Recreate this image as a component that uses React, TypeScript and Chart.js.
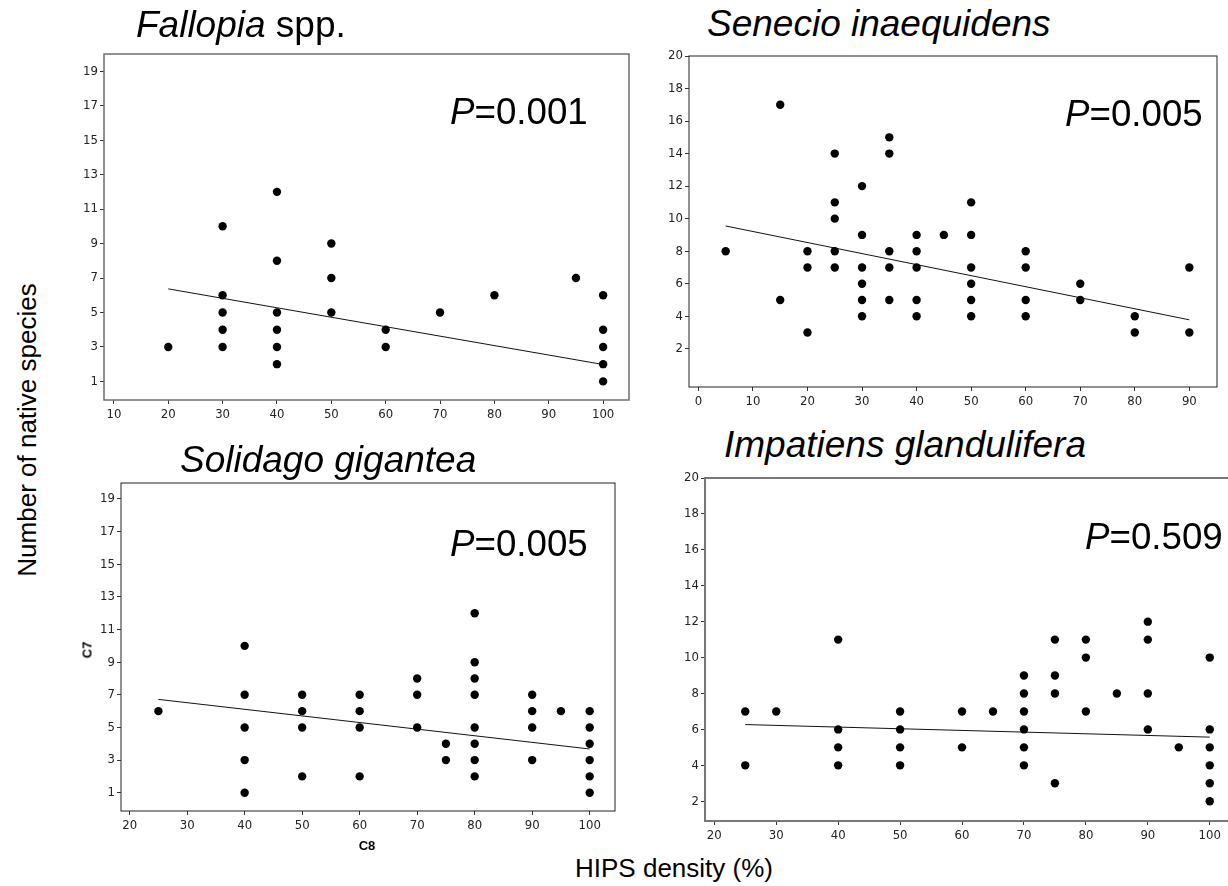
import React, { useEffect, useRef } from "react";
import { Chart, registerables } from "chart.js";

Chart.register(...registerables);

// Fallopia spp.
const fallopiaDensity = [20, 30, 30, 30, 30, 30, 40, 40, 40, 40, 40, 40, 50, 50, 50, 60, 60, 70, 80, 95, 100, 100, 100, 100, 100];
const fallopiaNative = [3, 10, 6, 5, 4, 3, 12, 8, 5, 4, 3, 2, 9, 7, 5, 4, 3, 5, 6, 7, 6, 4, 3, 2, 1];
const fallopiaFitX = [20, 100];
const fallopiaFitY = [6.37, 1.98];

// Senecio inaequidens
const senecioDensity = [5, 15, 15, 20, 20, 20, 25, 25, 25, 25, 25, 30, 30, 30, 30, 30, 30, 35, 35, 35, 35, 35, 40, 40, 40, 40, 40, 45, 50, 50, 50, 50, 50, 50, 60, 60, 60, 60, 70, 70, 80, 80, 90, 90];
const senecioNative = [8, 17, 5, 8, 7, 3, 14, 11, 10, 8, 7, 12, 9, 7, 6, 5, 4, 15, 14, 8, 7, 5, 9, 8, 7, 5, 4, 9, 11, 9, 7, 6, 5, 4, 8, 7, 5, 4, 6, 5, 4, 3, 7, 3];
const senecioFitX = [5, 90];
const senecioFitY = [9.55, 3.78];

// Solidago gigantea
const solidagoDensity = [25, 40, 40, 40, 40, 40, 50, 50, 50, 50, 60, 60, 60, 60, 70, 70, 70, 75, 75, 80, 80, 80, 80, 80, 80, 80, 80, 90, 90, 90, 90, 95, 100, 100, 100, 100, 100, 100];
const solidagoNative = [6, 10, 7, 5, 3, 1, 7, 6, 5, 2, 7, 6, 5, 2, 8, 7, 5, 4, 3, 12, 9, 8, 7, 5, 4, 3, 2, 7, 6, 5, 3, 6, 6, 5, 4, 3, 2, 1];
const solidagoFitX = [25, 100];
const solidagoFitY = [6.72, 3.68];

// Impatiens glandulifera
const impatiensDensity = [25, 25, 30, 40, 40, 40, 40, 50, 50, 50, 50, 60, 60, 65, 70, 70, 70, 70, 70, 70, 75, 75, 75, 75, 80, 80, 80, 85, 90, 90, 90, 90, 95, 100, 100, 100, 100, 100, 100];
const impatiensNative = [7, 4, 7, 11, 6, 5, 4, 7, 6, 5, 4, 7, 5, 7, 9, 8, 7, 6, 5, 4, 11, 9, 8, 3, 11, 10, 7, 8, 12, 11, 8, 6, 5, 10, 6, 5, 4, 3, 2];
const impatiensFitX = [25, 100];
const impatiensFitY = [6.27, 5.57];

// Tick labels
const oddTicks = [1, 3, 5, 7, 9, 11, 13, 15, 17, 19];
const evenTicks = [2, 4, 6, 8, 10, 12, 14, 16, 18, 20];
const ticks10to100 = [10, 20, 30, 40, 50, 60, 70, 80, 90, 100];
const ticks0to90 = [0, 10, 20, 30, 40, 50, 60, 70, 80, 90];
const ticks20to100 = [20, 30, 40, 50, 60, 70, 80, 90, 100];

const TICK_FONT = "'DejaVu Sans Condensed', 'Liberation Sans Narrow', sans-serif";
const TEXT_FONT = "'Liberation Sans', Arial, sans-serif";

type PanelProps = {
  frame: { l: number; t: number; r: number; b: number };
  xRange: [number, number];
  yRange: [number, number];
  xTicks: number[];
  yTicks: number[];
  xs: number[];
  ys: number[];
  fitX: number[];
  fitY: number[];
  frameColor: string;
  frameWidth: number;
};

const AXIS_W = 40;
const AXIS_H = 30;
const PAD_T = 10;
const PAD_R = 10;

function Panel(props: PanelProps) {
  const ref = useRef<HTMLCanvasElement | null>(null);
  const { frame } = props;
  const width = frame.r - frame.l + AXIS_W + PAD_R;
  const height = frame.b - frame.t + PAD_T + AXIS_H;

  useEffect(() => {
    if (!ref.current) return;
    // Box around the plotting area
    const framePlugin = {
      id: "panelFrame",
      afterDraw(chart: any) {
        const { ctx, chartArea } = chart;
        ctx.save();
        ctx.strokeStyle = props.frameColor;
        ctx.lineWidth = props.frameWidth;
        ctx.strokeRect(
          chartArea.left,
          chartArea.top,
          chartArea.right - chartArea.left,
          chartArea.bottom - chartArea.top
        );
        ctx.restore();
      },
    };
    const points = props.xs.map((x, i) => ({ x, y: props.ys[i] }));
    const fit = props.fitX.map((x, i) => ({ x, y: props.fitY[i] }));
    const tickFont = { family: TICK_FONT, size: 13 };
    const chart = new Chart(ref.current, {
      type: "scatter",
      data: {
        datasets: [
          {
            data: points,
            pointRadius: 4.2,
            pointHoverRadius: 4.2,
            backgroundColor: "#000",
            borderWidth: 0,
          },
          {
            type: "line",
            data: fit,
            borderColor: "#111",
            borderWidth: 1,
            pointRadius: 0,
            fill: false,
            showLine: true,
          } as any,
        ],
      },
      options: {
        responsive: false,
        animation: false,
        layout: { padding: { top: PAD_T, right: PAD_R, left: 0, bottom: 0 } },
        plugins: { legend: { display: false }, tooltip: { enabled: false } },
        scales: {
          x: {
            type: "linear",
            min: props.xRange[0],
            max: props.xRange[1],
            afterBuildTicks: (s: any) => {
              s.ticks = props.xTicks.map((v) => ({ value: v }));
            },
            afterFit: (s: any) => {
              s.height = AXIS_H;
            },
            ticks: { font: tickFont, color: "#222", padding: 3, maxRotation: 0, autoSkip: false },
            grid: { drawOnChartArea: false, drawTicks: true, tickLength: 4, color: "#333" },
            border: { display: false },
          },
          y: {
            type: "linear",
            min: props.yRange[0],
            max: props.yRange[1],
            afterBuildTicks: (s: any) => {
              s.ticks = props.yTicks.map((v) => ({ value: v }));
            },
            afterFit: (s: any) => {
              s.width = AXIS_W;
            },
            ticks: { font: tickFont, color: "#222", padding: 2, autoSkip: false },
            grid: { drawOnChartArea: false, drawTicks: true, tickLength: 4, color: "#333" },
            border: { display: false },
          },
        },
      },
      plugins: [framePlugin],
    });
    return () => chart.destroy();
  }, []);

  return (
    <canvas
      ref={ref}
      width={width}
      height={height}
      style={{
        position: "absolute",
        left: frame.l - AXIS_W,
        top: frame.t - PAD_T,
        width,
        height,
      }}
    />
  );
}

function Label(props: {
  x: number;
  baseline: number;
  size: number;
  children: React.ReactNode;
  center?: boolean;
  bold?: boolean;
}) {
  return (
    <div
      style={{
        position: "absolute",
        left: props.x,
        top: props.baseline - 0.8465 * props.size,
        fontFamily: TEXT_FONT,
        fontSize: props.size,
        lineHeight: 1,
        whiteSpace: "nowrap",
        color: "#000",
        fontWeight: props.bold ? "bold" : "normal",
        transform: props.center ? "translateX(-50%)" : undefined,
      }}
    >
      {props.children}
    </div>
  );
}

function VLabel(props: { cx: number; cy: number; size: number; children: React.ReactNode; bold?: boolean }) {
  return (
    <div
      style={{
        position: "absolute",
        left: props.cx,
        top: props.cy,
        fontFamily: TEXT_FONT,
        fontSize: props.size,
        lineHeight: 1,
        whiteSpace: "nowrap",
        color: "#000",
        fontWeight: props.bold ? "bold" : "normal",
        transform: "translate(-50%, -50%) rotate(-90deg)",
      }}
    >
      {props.children}
    </div>
  );
}

export default function App() {
  return (
    <div
      style={{
        position: "fixed",
        left: 0,
        top: 0,
        width: 1228,
        height: 886,
        overflow: "hidden",
        background: "#fff",
      }}
    >
      <Panel
        frame={{ l: 104, t: 54, r: 629, b: 400 }}
        xRange={[8.18, 104.76]}
        yRange={[-0.08, 20]}
        xTicks={ticks10to100}
        yTicks={oddTicks}
        xs={fallopiaDensity}
        ys={fallopiaNative}
        fitX={fallopiaFitX}
        fitY={fallopiaFitY}
        frameColor="#6e6e6e"
        frameWidth={1.5}
      />
      <Panel
        frame={{ l: 689, t: 56, r: 1217, b: 387 }}
        xRange={[-1.72, 95.07]}
        yRange={[-0.35, 20]}
        xTicks={ticks0to90}
        yTicks={evenTicks}
        xs={senecioDensity}
        ys={senecioNative}
        fitX={senecioFitX}
        fitY={senecioFitY}
        frameColor="#222"
        frameWidth={1}
      />
      <Panel
        frame={{ l: 121, t: 483, r: 615, b: 811 }}
        xRange={[18.5, 104.4]}
        yRange={[-0.12, 19.98]}
        xTicks={ticks20to100}
        yTicks={oddTicks}
        xs={solidagoDensity}
        ys={solidagoNative}
        fitX={solidagoFitX}
        fitY={solidagoFitY}
        frameColor="#222"
        frameWidth={1}
      />
      <Panel
        frame={{ l: 705, t: 478, r: 1237, b: 821 }}
        xRange={[18.5, 104.4]}
        yRange={[0.9, 20]}
        xTicks={ticks20to100}
        yTicks={evenTicks}
        xs={impatiensDensity}
        ys={impatiensNative}
        fitX={impatiensFitX}
        fitY={impatiensFitY}
        frameColor="#777"
        frameWidth={2}
      />

      <Label x={136} baseline={37} size={37}>
        <i>Fallopia</i> spp.
      </Label>
      <Label x={707} baseline={36} size={37}>
        <i>Senecio inaequidens</i>
      </Label>
      <Label x={180} baseline={472} size={37}>
        <i>Solidago gigantea</i>
      </Label>
      <Label x={724} baseline={457} size={37}>
        <i>Impatiens glandulifera</i>
      </Label>

      <Label x={450} baseline={125} size={36.7}>
        <i>P</i>=0.001
      </Label>
      <Label x={1065} baseline={127} size={36.7}>
        <i>P</i>=0.005
      </Label>
      <Label x={450} baseline={557} size={36.7}>
        <i>P</i>=0.005
      </Label>
      <Label x={1085} baseline={550} size={36.7}>
        <i>P</i>=0.509
      </Label>

      <VLabel cx={27} cy={430} size={26}>
        Number of native species
      </VLabel>
      <Label x={674} baseline={877} size={26} center>
        HIPS density (%)
      </Label>

      <VLabel cx={87} cy={650} size={13} bold>
        C7
      </VLabel>
      <Label x={367} baseline={850} size={13} center bold>
        C8
      </Label>
    </div>
  );
}
